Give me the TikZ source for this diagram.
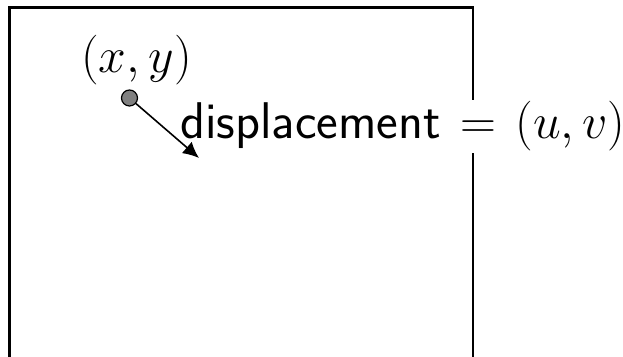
\documentclass[tikz,border=0pt]{standalone}
\usepackage{amsmath}
\usepackage{tikz}
\usetikzlibrary{arrows.meta,positioning}

\begin{document}
\begin{tikzpicture}[
    x=0.5pt, y=0.5pt,
    frame/.style={line width=1.1pt},
    pt/.style={circle, draw, fill=gray, minimum size=8pt, inner sep=0pt, line width=0.6pt},
    arr/.style={-{Latex[length=8pt,width=7.5pt]}, line width=0.8pt},
    lbl/.style={fill=white, inner sep=1pt, font=\fontsize{25.8}{30}\selectfont}
]
\useasboundingbox (0,0) rectangle (623,357);
\clip (0,0) rectangle (623,357);

% image frame, open at the bottom
\draw[frame] (9.5,-10) -- (9.5,349.5) -- (473,349.5) -- (473,-10);

\node[pt] (p) at (129.5,259) {};
\node[above=2pt of p, xshift=3.5pt, inner sep=0pt, font=\fontsize{24}{28}\selectfont] (xy) {$(x,y)$};

\node[lbl] (disp) at (403,230.5) {$\textsf{displacement}\mskip2mu = \mskip2mu(u,v)$};

\coordinate (tip) at (199,199);
\draw[arr] (p) -- (tip);
\end{tikzpicture}
\end{document}
